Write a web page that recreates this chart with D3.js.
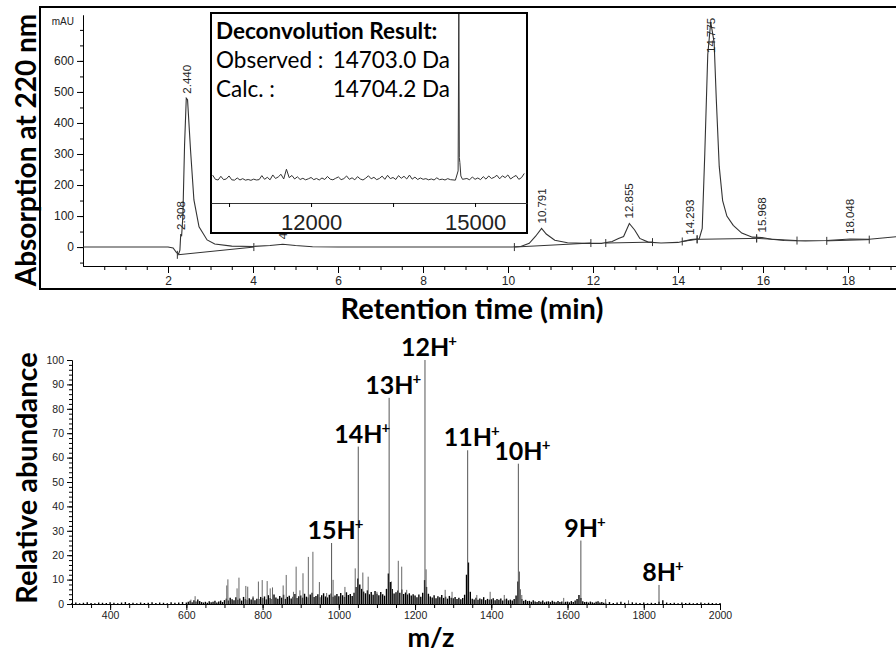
<!DOCTYPE html>
<html>
<head>
<meta charset="utf-8">
<script src="https://cdn.jsdelivr.net/npm/d3@7"></script>
<style>
body { margin: 0; background: #fff; }
svg { display: block; }
.tick text { font-family: "Liberation Sans", Arial, sans-serif; fill: #222; }
</style>
</head>
<body>
<svg id="chart" width="896" height="655"></svg>
<script>
// HPLC trace, 220 nm (time in min, absorbance in mAU)
const hplcTime = [0, 2.0, 2.12, 2.2, 2.25, 2.28, 2.30, 2.32, 2.35, 2.39, 2.43, 2.46, 2.53, 2.61, 2.73, 2.92, 3.1, 3.5, 4.0, 4.4, 4.7, 5.0, 5.4, 6.0,
  10.1, 10.3, 10.5, 10.65, 10.79, 10.9, 11.1, 11.4, 11.8, 12.2, 12.45, 12.6, 12.72, 12.855, 12.98, 13.1, 13.3, 13.6, 14.0, 14.3, 14.5,
  14.57, 14.63, 14.7, 14.77, 14.85, 14.9, 14.97, 15.05, 15.15, 15.3, 15.5, 15.75, 15.97, 16.2, 16.5, 17.0, 17.5, 18.05, 18.5, 19.2]
const hplcAbs = [0, 0, -3, -18, -22, -10, 42, 35, 100, 330, 480, 475, 313, 152, 65, 23, 10, 3, 2, 5, 9, 5, 1, 0,
  0, 2, 12, 35, 60, 42, 22, 14, 12, 12, 18, 28, 34, 76, 55, 28, 16, 13, 15, 24, 27,
  60, 300, 620, 725, 660, 480, 260, 150, 100, 70, 45, 32, 31, 25, 21, 20, 21, 26, 25, 34]
const peakTimes = [2.308, 2.440, 4.712, 10.791, 12.855, 14.293, 14.775, 15.968, 18.048]
// integration baselines: [t start, mAU start, t end, mAU end]
const intBaselines = [[2.22, -25, 4.02, 0], [10.15, 0, 11.95, 13], [12.3, 13, 13.4, 16], [14.1, 18, 14.45, 25],
  [14.45, 25, 15.85, 28], [15.85, 28, 16.8, 21], [17.5, 20, 18.5, 24]]

// deconvolution inset (mass in Da, relative intensity), noise sampled every 50 Da from 10200
const decoStart = 10200
const decoStep = 50
const decoNoise = [
  3.5, 1.0, 0.6, 2.8, 0.8, 1.2, 3.0, 0.7, 0.5, 1.8,
  0.6, 1.4, 0.5, 0.9, 0.4, 1.1, 0.6, 0.8, 3.2, 1.0,
  2.2, 0.7, 3.6, 1.5, 2.4, 4.0, 1.2, 7.0, 2.0, 3.3,
  1.2, 2.5, 0.9, 1.6, 0.7, 1.3, 2.1, 0.8, 1.5, 0.6,
  1.8, 0.9, 2.7, 1.1, 0.7, 1.6, 2.4, 0.8, 1.4, 3.0,
  1.0, 1.9, 0.7, 2.6, 1.2, 0.6, 1.7, 3.1, 1.3, 2.2,
  0.8, 1.5, 2.9, 1.0, 3.4, 1.4, 2.1, 0.9, 3.2, 1.6,
  2.8, 1.2, 3.5, 1.1, 2.3, 0.9, 1.8, 1.0, 1.4, 0.7,
  1.2, 0.6, 1.9, 0.8, 1.1, 0.6, 1.4, 0.8, 0, 0,
  0, 0, 0, 1.5, 0.7, 2.4, 1.0, 1.8, 0.8, 2.6,
  1.1, 3.0, 1.5, 2.2, 3.4, 1.3, 3.1, 2.0, 3.6, 1.2,
  2.4, 3.3, 1.0, 2.0, 4.5]
const decoPeakMass = [14640, 14690, 14703, 14712, 14722, 14740, 14770]
const decoPeakInt = [0.5, 6, 100, 14, 11, 3, 1]

// ESI-MS spectrum
const ionMz = [981, 1051, 1132, 1226, 1338, 1471, 1635, 1840]
const ionAbund = [25, 64.5, 84.5, 100, 63, 57.5, 26, 7.8]
const ionCharge = ['15', '14', '13', '12', '11', '10', '9', '8']
const minorMz = [612, 623, 706, 709, 733, 738, 756, 761, 775, 789, 799, 812, 820, 826, 854, 862, 881, 888, 898, 906,
  920, 932, 949, 968, 985, 1016, 1043, 1063, 1077, 1100, 1138, 1156, 1165, 1178, 1229, 1279, 1297, 1362, 1397, 1434,
  1474, 1480, 1590, 1700, 1760]
const minorAbund = [1.8, 3.2, 7.6, 10.1, 6.4, 10.8, 7.4, 7.1, 3.2, 9.2, 9.8, 9.4, 6.4, 6.8, 7.6, 11.9, 5.0, 15.3, 5.6, 12.6,
  19.3, 21.4, 9.0, 4.5, 9.9, 7.0, 14.6, 12.9, 11.2, 5.0, 9.2, 17.7, 15.3, 5.8, 14.2, 5.8, 5.0, 3.7, 5.0, 3.7,
  13.3, 3.7, 2.5, 2.0, 1.5]
// baseline "grass": 300-590 every 10, 600-1695 every 5, 1700-2000 every 10
const grassLow = [0.4, 0.6, 0.3, 0.5, 0.7, 0.4, 0.3, 0.6, 0.5, 0.4, 0.7, 0.5, 0.3, 0.6, 0.8, 0.4, 0.5, 0.3, 0.6, 0.4,
  0.5, 0.7, 0.4, 0.6, 0.5, 0.3, 0.7, 0.5, 0.6, 0.8]
const grassMain = [
  0.6, 0.9, 1.3, 0.7, 1.5, 1.0, 1.8, 1.2, 0.8, 0.6, 0.9, 0.5, 1.1, 0.7, 0.9, 1.3, 0.6, 1.0, 1.4, 0.8,
  1.6, 2.2, 1.4, 2.6, 1.9, 1.5, 2.8, 1.7, 2.3, 1.4, 2.9, 2.0, 1.6, 2.4, 1.8, 2.7, 1.5, 2.2, 2.0, 2.9,
  2.4, 3.1, 1.9, 3.6, 2.5, 2.0, 3.9, 2.7, 2.2, 3.3, 2.6, 3.8, 2.1, 2.9, 3.4, 2.3, 3.0, 4.1, 2.5, 3.2,
  3.5, 2.6, 4.2, 3.0, 2.7, 3.9, 4.6, 2.9, 3.3, 4.0, 2.8, 3.6, 4.4, 3.1, 2.7, 3.8, 4.3, 3.0, 3.5, 4.1,
  3.2, 4.5, 3.6, 2.9, 4.8, 3.7, 4.1, 3.3, 4.6, 7.0, 10.5, 8.0, 6.2, 5.1, 4.4, 5.6, 4.0, 4.9, 3.8, 5.3,
  4.2, 3.6, 4.9, 4.0, 3.4, 6.2, 12.5, 9.0, 6.1, 4.3, 4.8, 5.5, 4.6, 5.9, 4.1, 4.7, 3.9, 4.4, 3.5, 4.0,
  3.5, 2.8, 3.9, 3.0, 4.6, 9.8, 7.0, 4.2, 3.1, 2.7, 3.6, 2.4, 3.2, 2.8, 3.7, 2.5, 3.0, 2.2, 3.3, 2.6,
  2.4, 2.9, 2.0, 2.6, 1.9, 2.5, 3.8, 12.0, 17.0, 5.0, 2.2, 1.8, 2.6, 1.7, 2.3, 1.9, 2.8, 1.6, 2.1, 1.8,
  1.9, 2.4, 1.5, 2.0, 1.7, 2.3, 1.4, 1.9, 2.2, 1.5, 1.8, 1.4, 2.0, 3.5, 9.2, 6.0, 2.0, 1.3, 1.7, 1.2,
  1.3, 0.9, 1.5, 1.0, 0.8, 1.2, 0.9, 1.4, 0.7, 1.0, 1.1, 0.8, 1.3, 0.9, 0.7, 1.2, 0.8, 1.0, 0.6, 0.9,
  1.0, 0.7, 1.2, 0.8, 1.4, 2.0, 3.7, 2.5, 1.1, 0.8, 0.9, 0.6, 1.0, 0.7, 0.5, 0.9, 1.1, 0.6, 0.8, 0.5]
const grassHigh = [0.5, 0.8, 0.4, 0.6, 0.9, 0.5, 0.3, 0.7, 0.5, 0.4, 0.6, 0.3, 0.5, 0.4, 0.9, 1.5, 0.6, 0.4, 0.5, 0.3,
  0.6, 0.4, 0.5, 0.3, 0.4, 0.6, 0.3, 0.5, 0.4, 0.3, 0.4]

const svg = d3.select('#chart')
const titleFont = 'Lato, "Open Sans", sans-serif'

/* ---------- top panel: chromatogram ---------- */
const x1 = d3.scaleLinear().domain([0, 19.2]).range([83, 899])
const y1 = d3.scaleLinear().domain([-61, 748]).range([266, 15])

svg.append('rect')
  .attr('x', 40).attr('y', 7).attr('width', 880).attr('height', 282)
  .attr('fill', 'none').attr('stroke', '#000').attr('stroke-width', 2)

// y axis (major + minor ticks)
svg.append('g').attr('transform', 'translate(83,0)')
  .call(d3.axisLeft(y1).tickValues(d3.range(-50, 701, 50)).tickSize(3).tickFormat('').tickSizeOuter(0))
svg.append('g').attr('transform', 'translate(83,0)')
  .call(d3.axisLeft(y1).tickValues(d3.range(0, 601, 100)).tickSize(6).tickSizeOuter(0))
  .call(g => g.selectAll('text').attr('font-size', 12))
svg.append('text').attr('x', 74).attr('y', 25).attr('text-anchor', 'end')
  .attr('font-family', '"Liberation Sans", Arial, sans-serif').attr('font-size', 10).attr('fill', '#222')
  .text('mAU')

// x axis
svg.append('g').attr('transform', 'translate(0,266)')
  .call(d3.axisBottom(x1).tickValues(d3.range(0.5, 19.1, 0.5)).tickSize(4).tickFormat('').tickSizeOuter(0))
svg.append('g').attr('transform', 'translate(0,266)')
  .call(d3.axisBottom(x1).tickValues(d3.range(2, 19, 2)).tickSize(7).tickSizeOuter(0))
  .call(g => g.selectAll('text').attr('font-size', 12).attr('y', 10))

// integration baselines and their end markers
const blines = svg.append('g').attr('stroke', '#333').attr('stroke-width', 1)
intBaselines.forEach(b => {
  blines.append('line')
    .attr('x1', x1(b[0])).attr('y1', y1(b[1])).attr('x2', x1(b[2])).attr('y2', y1(b[3]))
  ;[[b[0], b[1]], [b[2], b[3]]].forEach(p => {
    blines.append('line')
      .attr('x1', x1(p[0])).attr('x2', x1(p[0]))
      .attr('y1', y1(p[1]) - 4).attr('y2', y1(p[1]) + 4)
  })
})

// trace
const hplcData = hplcTime.map((t, i) => [t, hplcAbs[i]])
svg.append('path').datum(hplcData)
  .attr('fill', 'none').attr('stroke', '#333').attr('stroke-width', 1.1)
  .attr('d', d3.line().x(d => x1(d[0])).y(d => y1(d[1])))

function absAt(t) {
  const i = d3.bisectLeft(hplcTime, t)
  if (i <= 0) return hplcAbs[0]
  const t0 = hplcTime[i - 1], t1 = hplcTime[i]
  return hplcAbs[i - 1] + (hplcAbs[i] - hplcAbs[i - 1]) * (t - t0) / (t1 - t0)
}

// peak retention labels
peakTimes.forEach(t => {
  const yb = Math.max(y1(absAt(t)) - 5, y1.range()[1] + 38)
  svg.append('text')
    .attr('transform', `translate(${x1(t) + 4},${yb}) rotate(-90)`)
    .attr('font-family', '"Liberation Sans", Arial, sans-serif').attr('font-size', 11.5).attr('fill', '#222')
    .text(t.toFixed(3))
})

// ---- deconvolution inset ----
const xi = d3.scaleLinear().domain([10170, 15950]).range([211, 527])
const yi = d3.scaleLinear().domain([0, 100]).range([181, 13])

svg.append('rect')
  .attr('x', 211).attr('y', 13).attr('width', 316).attr('height', 220)
  .attr('fill', '#fff').attr('stroke', '#000').attr('stroke-width', 2)

svg.append('defs').append('clipPath').attr('id', 'insetClip')
  .append('rect').attr('x', 212).attr('y', 14).attr('width', 314).attr('height', 218)

const decoData = decoNoise.map((v, i) => [decoStart + i * decoStep, v])
  .filter(d => d[0] < 14600 || d[0] > 14800)
  .concat(decoPeakMass.map((m, i) => [m, decoPeakInt[i]]))
  .sort((a, b) => a[0] - b[0])
svg.append('path').datum(decoData)
  .attr('clip-path', 'url(#insetClip)')
  .attr('fill', 'none').attr('stroke', '#333').attr('stroke-width', 1)
  .attr('d', d3.line().x(d => xi(d[0])).y(d => yi(d[1])))

svg.append('g').attr('transform', 'translate(0,203)')
  .call(d3.axisBottom(xi).tickValues([10500, 12000, 13500, 15000]).tickSize(4).tickSizeOuter(0)
    .tickFormat(d => (d === 12000 || d === 15000) ? d : ''))
  .call(g => g.select('.domain').attr('stroke', '#333'))
  .call(g => g.selectAll('text').attr('font-family', titleFont).attr('font-size', 22)
    .attr('fill', '#000').attr('y', 27).attr('dy', 0))

const inset = svg.append('g').attr('font-family', titleFont).attr('font-size', 22.5).attr('fill', '#000')
inset.append('text').attr('x', 216).attr('y', 39).attr('font-weight', 'bold').text('Deconvolution Result:')
inset.append('text').attr('x', 216).attr('y', 68).text('Observed :')
inset.append('text').attr('x', 450).attr('y', 68).attr('text-anchor', 'end').text('14703.0 Da')
inset.append('text').attr('x', 216).attr('y', 97).text('Calc. :')
inset.append('text').attr('x', 450).attr('y', 97).attr('text-anchor', 'end').text('14704.2 Da')

// titles
svg.append('text')
  .attr('transform', 'translate(36,150) rotate(-90)').attr('text-anchor', 'middle')
  .attr('font-family', titleFont).attr('font-weight', 'bold').attr('font-size', 28)
  .text('Absorption at 220 nm')
svg.append('text')
  .attr('x', 472).attr('y', 319).attr('text-anchor', 'middle')
  .attr('font-family', titleFont).attr('font-weight', 'bold').attr('font-size', 29)
  .text('Retention time (min)')

/* ---------- bottom panel: mass spectrum ---------- */
const x2 = d3.scaleLinear().domain([300, 2000]).range([72, 720])
const y2 = d3.scaleLinear().domain([0, 100]).range([604, 360])

// grass
const grassData = grassLow.map((v, i) => [300 + i * 10, v])
  .concat(grassMain.map((v, i) => [600 + i * 5, v]))
  .concat(grassHigh.map((v, i) => [1700 + i * 10, v]))
svg.append('g').attr('stroke', '#000').attr('stroke-width', 1.4)
  .selectAll('line').data(grassData).join('line')
  .attr('x1', d => x2(d[0])).attr('x2', d => x2(d[0]))
  .attr('y1', y2(0)).attr('y2', d => y2(d[1]))

// minor sticks
svg.append('g').attr('stroke', '#666').attr('stroke-width', 1)
  .selectAll('line').data(minorMz).join('line')
  .attr('x1', d => x2(d)).attr('x2', d => x2(d))
  .attr('y1', y2(0)).attr('y2', (d, i) => y2(minorAbund[i]))

// charge-state peaks
svg.append('g').attr('stroke', '#555').attr('stroke-width', 1)
  .selectAll('line').data(ionMz).join('line')
  .attr('x1', d => x2(d)).attr('x2', d => x2(d))
  .attr('y1', y2(0)).attr('y2', (d, i) => y2(ionAbund[i]))

const ionLabels = svg.append('g')
  .attr('font-family', titleFont).attr('font-weight', 'bold').attr('font-size', 25)
  .attr('text-anchor', 'middle')
ionMz.forEach((m, i) => {
  const t = ionLabels.append('text').attr('x', x2(m) + 4).attr('y', y2(ionAbund[i]) - 4)
  t.append('tspan').text(ionCharge[i] + 'H')
  t.append('tspan').attr('font-size', 15).attr('dx', -1).attr('dy', -10).text('+')
})

// axes
svg.append('g').attr('transform', 'translate(72,0)')
  .call(d3.axisLeft(y2).tickValues(d3.range(0, 101, 2)).tickSize(3).tickFormat('').tickSizeOuter(0))
svg.append('g').attr('transform', 'translate(72,0)')
  .call(d3.axisLeft(y2).tickValues(d3.range(0, 101, 10)).tickSize(5).tickSizeOuter(0))
  .call(g => g.selectAll('text').attr('font-size', 10.5).attr('x', -8))
svg.append('g').attr('transform', 'translate(0,604)')
  .call(d3.axisBottom(x2).tickValues(d3.range(300, 2001, 50)).tickSize(4).tickFormat('').tickSizeOuter(0))
svg.append('g').attr('transform', 'translate(0,604)')
  .call(d3.axisBottom(x2).tickValues(d3.range(400, 2001, 200)).tickSize(6).tickSizeOuter(0).tickFormat(d3.format('d')))
  .call(g => g.selectAll('text').attr('font-size', 10.5).attr('y', 8))

svg.append('text')
  .attr('transform', 'translate(37,478) rotate(-90)').attr('text-anchor', 'middle')
  .attr('font-family', titleFont).attr('font-weight', 'bold').attr('font-size', 29)
  .text('Relative abundance')
svg.append('text')
  .attr('x', 431).attr('y', 647).attr('text-anchor', 'middle')
  .attr('font-family', titleFont).attr('font-weight', 'bold').attr('font-size', 27)
  .text('m/z')
</script>
</body>
</html>
